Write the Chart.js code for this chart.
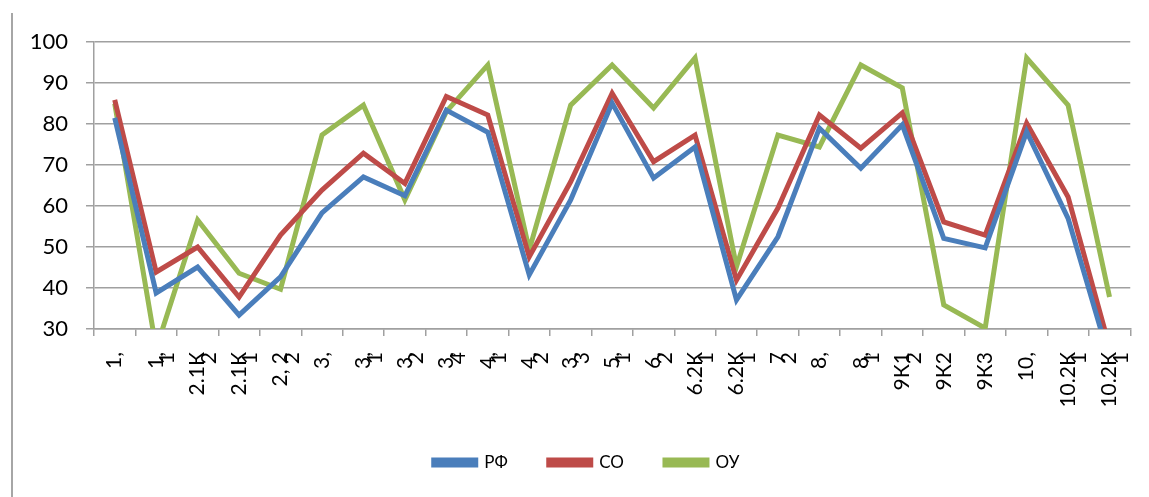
<!DOCTYPE html>
<html>
<head>
<meta charset="utf-8">
<script src="https://cdn.jsdelivr.net/npm/chart.js@4"></script>
<style>
  body { margin: 0; background: #fff; }
  #wrap { position: relative; width: 1149px; height: 497px; }
  #frame { position: absolute; left: 11px; top: 13px; width: 0; height: 484px; border-left: 2px solid #a6a6a6; }
</style>
</head>
<body>
<div id="wrap">
  <div id="frame"></div>
  <canvas id="lineChart" width="1149" height="497"></canvas>
</div>
<script>
const categories = ["1,", ["1,", "1"], ["2.1К", "2"], ["2.1К", "1"], ["2, 2", "2"], "3,", ["3,", "1"], ["3,", "2"], ["3,", "4"],
    ["4,", "1"], ["4,", "2"], ["3,", "3"], ["5,", "1"], ["6,", "2"], ["6.2К", "1"], ["6.2К", "1"], ["7", "2"], "8,",
    ["8,", "1"], ["9К1", "2"], "9К2", "9К3", "10,", ["10.2К", "1"], ["10.2К", "1"]];

const rf = [81.5, 38.8, 45.1, 33.4, 42.7, 58.3, 67.1, 62.5, 83.4, 78.0, 43.2, 61.5, 85.1,
    66.8, 74.4, 37.1, 52.5, 79.0, 69.2, 79.8, 52.1, 49.8, 78.1, 57.0, 22.6];
const so = [85.9, 43.9, 50.0, 37.8, 52.9, 63.9, 72.9, 65.5, 86.7, 82.2, 47.6, 65.9, 87.5,
    70.8, 77.3, 41.9, 59.5, 82.2, 74.1, 82.7, 56.1, 52.9, 80.2, 62.2, 25.6];
const ou = [85.0, 25.2, 56.6, 43.6, 39.7, 77.3, 84.6, 61.5, 83.0, 94.4, 49.3, 84.6, 94.4,
    83.9, 96.1, 45.2, 77.3, 74.4, 94.4, 88.8, 35.9, 30.2, 96.1, 84.6, 37.8];

const yMin = 30, yMax = 100, yStep = 10;

const gridColor = '#a0a0a0';
const font = "Lato";

// nudge the legend a bit right, like in the original
const legendShift = {
    id: 'legendShift',
    afterLayout(chart) {
        const lg = chart.legend;
        if (!lg) return;
        lg.left += 8;
        lg.right += 8;
    }
};

document.addEventListener("DOMContentLoaded", function() {
    const ctx = document.getElementById('lineChart').getContext('2d');

    function line(label, data, color) {
        return {
            label: label,
            data: data,
            borderColor: color,
            backgroundColor: color,
            borderWidth: 5,
            pointRadius: 0,
            tension: 0,
            clip: 0
        };
    }

    new Chart(ctx, {
        type: 'line',
        data: {
            labels: categories,
            datasets: [
                line('РФ', rf, '#4a7ebb'),
                line('СО', so, '#be4b48'),
                line('ОУ', ou, '#98b954')
            ]
        },
        plugins: [legendShift],
        options: {
            responsive: false,
            animation: false,
            layout: { padding: { top: 42, right: 18, left: 26, bottom: 16 } },
            plugins: {
                tooltip: { enabled: false },
                legend: {
                    display: true,
                    position: 'bottom',
                    labels: {
                        boxWidth: 42,
                        boxHeight: 5,
                        padding: 41,
                        color: '#000',
                        font: { family: font, size: 17 }
                    }
                }
            },
            scales: {
                x: {
                    offset: true,
                    grid: { display: true, offset: true, drawOnChartArea: false, drawTicks: true, tickLength: 7, color: gridColor, lineWidth: 1.5 },
                    border: { display: true, color: gridColor, width: 1.5 },
                    ticks: {
                        autoSkip: false,
                        maxRotation: 90,
                        minRotation: 90,
                        padding: 16,
                        color: '#000',
                        font: { family: font, size: 21, lineHeight: 0.55 }
                    },
                    afterFit: function(scale) { scale.height = 84; }
                },
                y: {
                    min: yMin,
                    max: yMax,
                    grid: { color: gridColor, lineWidth: 1.5, tickLength: 8 },
                    border: { display: true, color: gridColor, width: 1.5 },
                    ticks: {
                        stepSize: yStep,
                        padding: 18,
                        color: '#000',
                        font: { family: font, size: 22 }
                    },
                    afterFit: function(scale) { scale.width = 68; }
                }
            }
        }
    });
});
</script>
</body>
</html>
